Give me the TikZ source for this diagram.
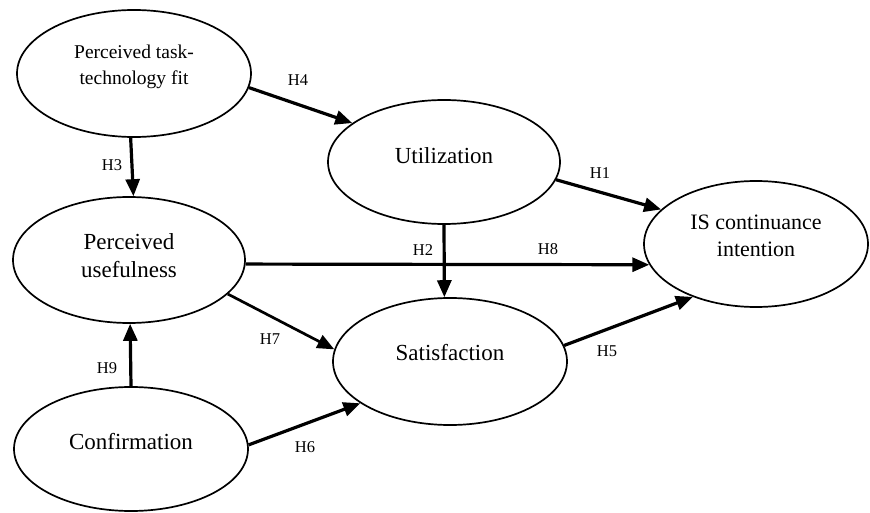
\documentclass[tikz,border=0pt]{standalone}
\usepackage{fontspec}
\setmainfont{Liberation Serif}
\usetikzlibrary{shapes.geometric,arrows.meta}
\tikzset{
  construct/.style={ellipse, draw, line width=1.7pt, inner sep=0pt, fill=white},
  ctext/.style={align=center, inner sep=0pt, font=\fontsize{23}{28}\selectfont},
  stext/.style={align=center, inner sep=0pt, font=\fontsize{19.5}{26}\selectfont},
  itext/.style={align=center, inner sep=0pt, font=\fontsize{22}{27}\selectfont},
  hlab/.style={inner sep=0pt, font=\fontsize{16.5}{18}\selectfont},
  path/.style={line width=3.2pt, -{Triangle[length=17pt,width=14pt]}}
}
\begin{document}
\begin{tikzpicture}[x=1pt,y=-1pt]
\useasboundingbox (0,0) rectangle (870,513);
% constructs
\node[construct, minimum width=234pt, minimum height=127pt] (pttf) at (134,73.5) {};
\node[construct, minimum width=232pt, minimum height=124pt] (util) at (444,162) {};
\node[construct, minimum width=232pt, minimum height=126pt] (pu) at (129,260) {};
\node[construct, minimum width=234pt, minimum height=124pt] (conf) at (131,449) {};
\node[construct, minimum width=234pt, minimum height=127pt] (sat) at (450,361.5) {};
\node[construct, minimum width=224pt, minimum height=126pt] (isci) at (756,244) {};
% texts
\node[stext] (pttf-t) at (134,67) {Perceived task-\\technology fit};
\node[ctext] (util-t) at (444,156) {Utilization};
\node[ctext] (pu-t) at (129,256) {Perceived\\usefulness};
\node[ctext] (conf-t) at (131,442) {Confirmation};
\node[ctext] (sat-t) at (450,353) {Satisfaction};
\node[itext] (isci-t) at (756,236) {IS continuance\\intention};
% paths
\draw[path] (pttf.-7.25) -- (util.157);
\draw[path] (pttf.-93.6) -- (pu.86.4);
\draw[path] (util.-9.8) -- (isci.160.1);
\draw[path] (pu.-2.5) -- (isci.191.8);
\draw[path] (util.-90) -- (sat.95.4);
\draw[path, line width=2.7pt] (pu.-19.2) -- (sat.174.8);
\draw[path] (conf.90) -- (pu.-89);
\draw[path] (conf.2) -- (sat.205.8);
\draw[path] (sat.8.3) -- (isci.220.8);
% labels
\node[hlab] (l4) at (298,80) {H4};
\node[hlab] (l3) at (112,165) {H3};
\node[hlab] (l1) at (600,173) {H1};
\node[hlab] (l2) at (423,250) {H2};
\node[hlab] (l8) at (548,249) {H8};
\node[hlab] (l7) at (270,339) {H7};
\node[hlab] (l9) at (107,368) {H9};
\node[hlab] (l6) at (305,447) {H6};
\node[hlab] (l5) at (607,351) {H5};
\end{tikzpicture}
\end{document}
